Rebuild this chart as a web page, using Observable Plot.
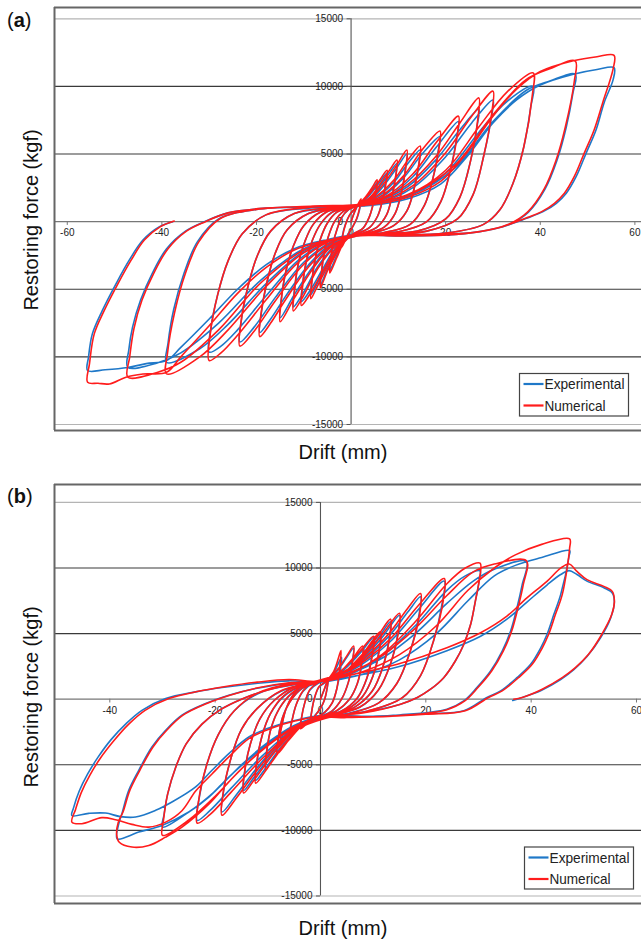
<!DOCTYPE html>
<html><head><meta charset="utf-8">
<script src="https://cdn.jsdelivr.net/npm/d3@7"></script>
<script src="https://cdn.jsdelivr.net/npm/@observablehq/plot@0.6"></script>
<style>
html,body{margin:0;padding:0;background:#fff;}
.panel{position:absolute;left:0;width:641px;}
</style></head><body>
<div id="pa" class="panel" style="top:0px"></div>
<div id="pb" class="panel" style="top:470px"></div>
<script>
const seriesNames = ["Experimental", "Numerical"];
const seriesColors = ["#1f78c8", "#ff1c1c"];
const yTicks = [15000, 10000, 5000, 0, -5000, -10000, -15000];
const xTicksA = [-60, -40, -20, 0, 20, 40, 60];
const xTicksB = [-40, -20, 0, 20, 40, 60];
const xLabel = "Drift (mm)";
const yLabel = "Restoring force (kgf)";

// (a) Experimental
const expA = [[0,0],[1,900],[2.1,1500],
[1.8,900],[1.2,200],[0.3,-400],[-0.8,-1000],[-2,-1800],
[-1.8,-1000],[-1.2,-200],[-0.3,500],[1,1000],[3,1700],[4.5,2400],[5.5,2900],
[5.2,2200],[4.6,1200],[3.8,300],[2.5,-500],[0.5,-900],[-1.5,-1500],[-3,-2500],[-4.5,-3600],
[-4.3,-2700],[-3.8,-1600],[-3,-600],[-2,300],[-0.5,900],[1.5,1200],[4,2000],[6,2900],[7.6,3600],
[7.3,2800],[6.6,1500],[5.6,400],[4,-400],[1.5,-850],[-1,-1100],[-3,-2200],[-5,-3500],[-6.5,-4700],
[-6.3,-3800],[-5.7,-2400],[-4.8,-1100],[-3.5,0],[-1.5,800],[1,1100],[4,1700],[6.5,2800],[8.3,3700],[9.7,4300],
[9.4,3300],[8.6,1800],[7.5,500],[5.5,-400],[2.5,-850],[-1,-1100],[-3.5,-2300],[-6,-3800],[-7.5,-4800],[-8.5,-5400],
[-8.3,-4400],[-7.6,-2800],[-6.5,-1300],[-5,-100],[-3,700],[0,1050],[4,1600],[7,2700],[9.5,3900],[11.8,5000],
[11.5,3900],[10.6,2100],[9.3,600],[7,-400],[3.5,-850],[0,-1000],[-3,-1800],[-6,-3500],[-8.5,-5000],[-10.5,-5900],
[-10.3,-4800],[-9.5,-3000],[-8.2,-1400],[-6.5,-200],[-4,700],[0,1050],[5,1700],[9,2900],[12,4300],[14.6,5300],
[14.3,4200],[13.3,2400],[11.8,800],[9,-300],[5,-800],[0,-1000],[-3,-1600],[-7,-3300],[-10,-5200],[-12.2,-6300],
[-12,-5100],[-11.2,-3200],[-9.8,-1500],[-8,-200],[-5,750],[0,1050],[6,1700],[11,3200],[15,5000],[18.8,6300],
[18.4,5200],[17.3,3200],[15.5,1200],[12.5,-200],[7,-800],[1,-1000],[-4,-1700],[-8,-3300],[-12,-5400],[-15,-7100],
[-14.8,-5800],[-13.8,-3700],[-12.2,-1800],[-10,-300],[-6.5,700],[0,1050],[7,1700],[13,3300],[18,5500],[22.7,7400],
[22.3,6200],[21,3800],[19,1500],[16,0],[10,-750],[2,-1000],[-4,-1600],[-9,-3200],[-14,-5600],[-17,-7200],[-19.3,-8200],
[-19,-6800],[-17.8,-4500],[-16,-2300],[-13.5,-600],[-9,600],[-3,1000],[5,1400],[12,2600],[18,4600],[23,6800],[27,8300],
[26.6,7000],[25.2,4400],[23,1800],[20,200],[14,-700],[5,-950],[-3,-1300],[-10,-3000],[-16,-5600],[-20.5,-7800],[-23.5,-8900],
[-23.2,-7300],[-21.8,-4800],[-19.8,-2500],[-17,-700],[-12,600],[-4,1000],[5,1300],[13,2500],[20,4800],[25.5,7300],[30,9000],
[29.6,7600],[28,4800],[25.8,2000],[22.5,200],[16,-700],[6,-950],[-3,-1200],[-11,-2800],[-18,-5500],[-24,-8000],[-27.5,-9200],[-30,-9650],
[-29.7,-8000],[-28.2,-5400],[-26,-2900],[-23,-900],[-18,500],[-9,1000],[2,1200],[12,1900],[20,3600],[27,6600],[33,8900],[38.5,10000],
[38,8500],[36.5,5500],[34.2,2800],[31.5,900],[28,-200],[20,-850],[8,-1000],[-2,-1100],[-10,-2200],[-18,-4600],[-26,-7600],[-32,-9400],[-39,-10400],
[-38.7,-9000],[-37.5,-6500],[-35.3,-3800],[-32.5,-1500],[-28,200],[-20,900],[-8,1100],[3,1250],[13,2000],[22,4000],[30,7400],[37,9700],[42,10400],[47.4,10890],
[46.9,9500],[45.5,7000],[43.5,4500],[41,2400],[37.5,700],[33.5,-200],[27,-750],[18,-950],[6,-1000],[-2,-1100],[-10,-2000],[-19,-4300],[-28,-7500],[-36,-9700],[-41,-10450],[-47.2,-10770],
[-47,-9500],[-46.2,-7800],[-44.5,-5800],[-42,-3800],[-39,-2000],[-35,-700],[-31,0],[-26,650],[-18,1000],[-6,1100],[4,1200],[12,1700],[19,2800],[24.5,4800],[30,7300],[35,9000],[40,10100],[47,10900],[52,11250],[55.6,11385],
[55.4,10500],[53.5,8800],[51.8,6800],[49.7,5070],[47.6,3340],[45.5,2100],[43.4,1360],[40.6,740],[37.1,250],[32.1,-370],[27.2,-740],[20.2,-990],[10,-1050],[2,-1000],[-6,-1400],[-12,-2000],[-18,-3200],[-24,-5000],[-30,-7200],[-36,-9300],[-39,-10270],[-43.3,-10500],[-47.2,-10780],[-52,-10950],[-55.7,-11010],
[-55.5,-10000],[-54.7,-8300],[-52.6,-6580],[-49.7,-4600],[-46.9,-2850],[-44,-1360],[-40.5,-370],[-37.7,0]];

// (a) Numerical
const numA = [[0,0],[1,950],[2.1,1700],
[1.8,1000],[1.2,250],[0.3,-400],[-0.8,-1050],[-2,-1900],
[-1.8,-1100],[-1.2,-250],[-0.3,500],[1,1050],[3,1800],[4.5,2550],[5.5,3100],
[5.3,2300],[4.6,1200],[3.8,300],[2.5,-500],[0.5,-900],[-1.5,-1550],[-3,-2650],[-4.5,-3800],
[-4.3,-2800],[-3.8,-1600],[-3,-600],[-2,300],[-0.5,900],[1.5,1250],[4,2100],[6,3050],[7.6,3800],
[7.4,2900],[6.6,1500],[5.6,400],[4,-400],[1.5,-850],[-1,-1150],[-3,-2300],[-5,-3650],[-6.5,-4900],
[-6.3,-3900],[-5.7,-2400],[-4.8,-1100],[-3.5,0],[-1.5,800],[1,1150],[4,1800],[6.5,2950],[8.3,3900],[9.7,4550],
[9.5,3500],[8.6,1800],[7.5,500],[5.5,-400],[2.5,-850],[-1,-1150],[-3.5,-2400],[-6,-4000],[-7.5,-5050],[-8.5,-5700],
[-8.3,-4500],[-7.6,-2800],[-6.5,-1300],[-5,-100],[-3,700],[0,1100],[4,1700],[7,2850],[9.5,4100],[11.8,5300],
[11.6,4100],[10.6,2100],[9.3,600],[7,-400],[3.5,-850],[0,-1050],[-3,-1900],[-6,-3700],[-8.5,-5250],[-10.5,-6200],
[-10.3,-4900],[-9.5,-3000],[-8.2,-1400],[-6.5,-200],[-4,700],[0,1100],[5,1800],[9,3050],[12,4550],[14.6,5600],
[14.4,4400],[13.3,2400],[11.8,800],[9,-300],[5,-800],[0,-1050],[-3,-1700],[-7,-3450],[-10,-5450],[-12.2,-6600],
[-12,-5300],[-11.2,-3200],[-9.8,-1500],[-8,-200],[-5,750],[0,1100],[6,1800],[11,3350],[15,5300],[18.8,6700],
[18.6,5500],[17.3,3200],[15.5,1200],[12.5,-200],[7,-800],[1,-1050],[-4,-1800],[-8,-3450],[-12,-5650],[-15,-7400],
[-14.8,-6000],[-13.8,-3700],[-12.2,-1800],[-10,-300],[-6.5,700],[0,1100],[7,1800],[13,3500],[18,5850],[22.7,7800],
[22.5,6500],[21,3800],[19,1500],[16,0],[10,-750],[2,-1000],[-4,-1700],[-9,-3350],[-14,-5850],[-17,-7500],[-19.3,-8500],
[-19.1,-7000],[-17.8,-4500],[-16,-2300],[-13.5,-600],[-9,600],[-3,1050],[5,1450],[12,2750],[18,4850],[23,7300],[27,9150],
[26.8,7600],[25.2,4400],[23,1800],[20,200],[14,-700],[5,-950],[-3,-1350],[-10,-3150],[-16,-5850],[-20.5,-8100],[-23.5,-9200],
[-23.3,-7500],[-21.8,-4800],[-19.8,-2500],[-17,-700],[-12,600],[-4,1050],[5,1350],[13,2650],[20,5100],[25.5,7800],[30,9650],
[29.8,8200],[28,4800],[25.8,2000],[22.5,200],[16,-700],[6,-950],[-3,-1250],[-11,-2950],[-18,-5800],[-24,-8400],[-27.5,-9700],[-30,-10270],
[-29.8,-8400],[-28.2,-5400],[-26,-2900],[-23,-900],[-18,500],[-9,1050],[2,1250],[12,2000],[20,3800],[27,7000],[33,9600],[38.5,11000],
[38.3,9300],[36.5,5500],[34.2,2800],[31.5,900],[28,-200],[20,-850],[8,-1000],[-2,-1150],[-10,-2300],[-18,-4800],[-26,-8000],[-32,-10000],[-39,-11260],
[-38.8,-9700],[-37.3,-6700],[-35,-3800],[-32.2,-1500],[-27.8,200],[-20,900],[-8,1150],[3,1300],[13,2100],[22,4200],[30,7900],[37,10500],[42,11300],[47.4,11880],
[47.2,10400],[45.3,7000],[43.3,4500],[40.8,2400],[37.3,700],[33.3,-200],[27,-750],[18,-950],[6,-1000],[-2,-1150],[-10,-2100],[-19,-4500],[-28,-8000],[-36,-10400],[-41,-11150],[-47.2,-11500],
[-46.8,-10000],[-45.9,-7900],[-44.2,-5800],[-41.7,-3800],[-38.7,-2000],[-34.8,-700],[-30.8,0],[-26,650],[-18,1000],[-6,1150],[4,1250],[12,1800],[19,3000],[24.5,5100],[30,7800],[35,9800],[40,11100],[47,11900],[52,12200],[55.6,12300],
[55.4,11300],[53.2,8800],[51.4,6800],[49.3,5070],[47.2,3340],[45.1,2100],[43,1360],[40.3,740],[36.9,250],[32,-370],[27.2,-740],[20.2,-990],[10,-1050],[2,-1000],[-6,-1450],[-12,-2100],[-18,-3400],[-24,-5300],[-30,-7700],[-36,-10000],[-39,-11140],[-44,-11260],[-47.6,-11500],[-51.1,-12000],[-53.5,-11950],[-55.7,-11880],
[-55.3,-10500],[-54.3,-8300],[-52.2,-6580],[-49.3,-4600],[-46.5,-2850],[-43.7,-1360],[-40.3,-370],[-37.4,50]];

// (b) Experimental
const expB = [[0,0],[0.8,800],[1.5,1500],
[1.3,900],[0.8,0],[0,-700],[-1,-1200],[-1.9,-1700],
[-1.7,-1000],[-1.2,0],[-0.3,900],[1,1300],[2.5,2000],[4,3200],
[3.7,2000],[3.1,800],[2.2,-300],[0.8,-1000],[-1,-1400],[-2.5,-1800],[-3.8,-2150],
[-3.6,-1400],[-3,-300],[-2,700],[-0.5,1200],[1.5,1500],[3.5,2300],[5,3200],[6.3,3900],
[6,2800],[5.3,1300],[4,0],[2.2,-900],[0,-1300],[-2,-1600],[-4,-2000],[-5.7,-2400],
[-5.4,-1600],[-4.6,-400],[-3.3,600],[-1.5,1200],[1,1400],[3.5,1900],[6,2900],[8.2,3900],
[7.9,2700],[7,1200],[5.5,0],[3,-900],[0,-1300],[-2.5,-1700],[-5,-2200],[-7.6,-2900],
[-7.3,-1900],[-6.4,-600],[-4.8,500],[-2.5,1200],[0.5,1400],[4,2100],[7.5,3500],[10.1,4700],
[9.8,3400],[8.8,1600],[7,100],[4,-900],[0.5,-1300],[-3,-1800],[-6,-3000],[-8.2,-4020],
[-8,-2900],[-7.2,-1400],[-5.8,-200],[-3.5,800],[0,1300],[4,1800],[8,3300],[11.4,5000],
[11.1,3700],[10,1800],[8,200],[5,-800],[1,-1300],[-3,-1800],[-6.5,-3200],[-9,-4500],[-10.4,-5170],
[-10.2,-3900],[-9.3,-2100],[-7.8,-700],[-5.5,400],[-2,1200],[2,1500],[6.5,2600],[10.5,4400],[13.3,5900],
[13,4500],[11.8,2400],[9.8,600],[6.5,-600],[2,-1200],[-3,-1800],[-7,-3400],[-10.5,-5300],[-12.3,-6180],
[-12.1,-4800],[-11.1,-2800],[-9.5,-1100],[-7,200],[-3,1100],[2,1500],[7,2700],[11.5,4600],[15,6400],
[14.7,5000],[13.3,2700],[11,700],[7.5,-600],[2,-1200],[-3,-1700],[-8,-3600],[-12.5,-5900],[-14.6,-6950],
[-14.4,-5500],[-13.3,-3400],[-11.5,-1500],[-8.8,-100],[-4.5,1000],[1,1500],[7,2600],[13,4800],[16.5,6600],[19,7800],
[18.6,6200],[17,3600],[14.5,1200],[11,-300],[5,-1100],[-1,-1500],[-7,-3000],[-12,-5200],[-16,-7300],[-18.7,-8600],
[-18.4,-7000],[-17,-4500],[-15,-2300],[-12,-700],[-7.5,600],[-1,1300],[6,2200],[13,4300],[18.5,6800],[23.5,9000],
[23.1,7300],[21.5,4500],[19,1800],[15.5,100],[9,-900],[1,-1400],[-5,-2300],[-11,-4300],[-17,-6800],[-21,-8500],[-23.4,-9240],
[-23.1,-7700],[-21.6,-5000],[-19.4,-2700],[-16.4,-900],[-12,400],[-5,1200],[3,1500],[11,3100],[18,5600],[24,8300],[27.5,9400],[30.3,9790],
[30.1,8980],[29.4,7460],[28.5,5690],[27.2,4170],[25.6,2910],[23.4,1640],[20.9,760],[18.4,130],[15.2,-380],[8,-1000],[0,-1300],[-5,-2000],[-10,-3300],[-15,-5000],[-20,-7000],[-25,-8600],[-30,-9750],
[-29.7,-8800],[-29,-7200],[-27.5,-5200],[-25.5,-3400],[-22.5,-1900],[-19,-800],[-15,0],[-10,700],[-5,1100],[0,1300],[6,2000],[12,3200],[18,5000],[24,7300],[29,9000],[33,9900],[39.1,10500],
[38.3,8730],[37.3,6960],[36.1,5190],[34.5,3670],[32.3,2150],[29.7,890],[27.2,-130],[24,-760],[15,-1200],[5,-1350],[0,-1400],[-6,-2370],[-12.3,-4150],[-17.4,-5930],[-21.2,-7460],[-25,-8600],[-30.1,-9620],[-34.5,-10130],[-38.6,-10640],
[-38.3,-9500],[-37.7,-8730],[-36.4,-6950],[-34.5,-5420],[-32,-3640],[-29.4,-2370],[-26.3,-1220],[-21.8,-330],[-17.4,300],[-12.3,810],[-6,1200],[0,1300],[8,1900],[15,3000],[22,5000],[28,7500],[33,9400],[37,10200],[42,10800],[47.3,11330],
[47.2,10900],[45.6,7970],[44.3,6450],[43,4930],[41.8,3900],[39.9,2660],[37.3,1640],[34.2,630],[31.6,130],[27.2,-880],[20,-1100],[10,-1300],[0,-1250],[-4.7,-1600],[-9.2,-2110],[-13.6,-2880],[-17.4,-4150],[-20.6,-5420],[-23.7,-6690],[-28.2,-7840],[-31.3,-8470],[-35.1,-8980],[-38,-8950],[-40.8,-8680],[-44,-8700],[-47.2,-8860],
[-46.9,-8300],[-45.8,-7000],[-44.2,-5700],[-42.2,-4400],[-39.8,-3100],[-37,-1900],[-33.9,-850],[-29.4,50],[-23.7,560],[-18.7,890],[-12.3,1200],[-6,1400],[0,1300],[6.3,1750],[14.6,2450],[24,3700],[30.4,4800],[35.4,6100],[39.2,7400],[43,8700],[45.6,9500],[47.2,9800],[48.7,9500],[50.6,9000],[53.8,8500],[55.4,8100],[55.8,7400],
[55.1,6200],[53.2,4700],[50.6,3250],[48.1,2250],[45.6,1500],[41.8,650],[38,100],[36.5,-100]];

// (b) Numerical
const numB = [[0,0],[0.8,850],[1.5,1600],
[1.3,950],[0.8,0],[0,-700],[-1,-1250],[-1.9,-1800],
[-1.7,-1050],[-1.2,0],[-0.3,950],[1,1350],[2.5,2100],[3.9,3700],
[3.6,2300],[3.1,800],[2.2,-300],[0.8,-1000],[-1,-1450],[-2.5,-1850],[-3.8,-2250],
[-3.6,-1450],[-3,-300],[-2,750],[-0.5,1250],[1.5,1550],[3.5,2400],[5,3300],[6.3,4050],
[6.1,2900],[5.3,1300],[4,0],[2.2,-900],[0,-1350],[-2,-1650],[-4,-2050],[-5.7,-2500],
[-5.4,-1650],[-4.6,-400],[-3.3,650],[-1.5,1250],[1,1450],[3.5,2000],[6,3050],[8,4050],
[7.8,2800],[7,1200],[5.5,0],[3,-900],[0,-1350],[-2.5,-1750],[-5,-2300],[-7.6,-3000],
[-7.3,-1950],[-6.4,-600],[-4.8,550],[-2.5,1250],[0.5,1450],[4,2200],[7.5,3650],[10.1,4800],
[9.9,3500],[8.8,1600],[7,100],[4,-900],[0.5,-1350],[-3,-1850],[-6,-3100],[-8.2,-4150],
[-8,-3000],[-7.2,-1400],[-5.8,-200],[-3.5,850],[0,1350],[4,1900],[8,3450],[11.4,5150],
[11.2,3800],[10,1800],[8,200],[5,-800],[1,-1350],[-3,-1850],[-6.5,-3300],[-9,-4650],[-10.4,-5350],
[-10.2,-4000],[-9.3,-2100],[-7.8,-700],[-5.5,450],[-2,1250],[2,1550],[6.5,2700],[10.5,4600],[13.3,6100],
[13.1,4600],[11.8,2400],[9.8,600],[6.5,-600],[2,-1250],[-3,-1850],[-7,-3500],[-10.5,-5500],[-12.3,-6400],
[-12.1,-4900],[-11.1,-2800],[-9.5,-1100],[-7,250],[-3,1150],[2,1550],[7,2800],[11.5,4800],[15,6550],
[14.8,5100],[13.3,2700],[11,700],[7.5,-600],[2,-1250],[-3,-1750],[-8,-3700],[-12.5,-6100],[-14.6,-7150],
[-14.4,-5600],[-13.3,-3400],[-11.5,-1500],[-8.8,-100],[-4.5,1050],[1,1550],[7,2700],[13,5000],[16.5,6900],[19,8050],
[18.8,6400],[17,3600],[14.5,1200],[11,-300],[5,-1150],[-1,-1550],[-7,-3100],[-12,-5400],[-16,-7550],[-18.7,-8850],
[-18.5,-7200],[-17,-4500],[-15,-2300],[-12,-700],[-7.5,650],[-1,1350],[6,2300],[13,4500],[18.5,7100],[23.5,9200],
[23.3,7500],[21.5,4500],[19,1800],[15.5,100],[9,-900],[1,-1450],[-5,-2400],[-11,-4500],[-17,-7100],[-21,-8800],[-23.4,-9450],
[-23.2,-7900],[-21.6,-5000],[-19.4,-2700],[-16.4,-900],[-12,450],[-5,1250],[3,1550],[11,3200],[18,5900],[24,8800],[27.5,10000],[30.3,10370],
[30.2,9200],[29.4,7460],[28.5,5690],[27.2,4170],[25.6,2910],[23.4,1640],[20.9,760],[18.4,130],[15.2,-380],[8,-1050],[0,-1350],[-5,-2100],[-10,-3500],[-15,-5300],[-20,-7400],[-25,-9200],[-30,-10380],
[-29.8,-9200],[-29,-7200],[-27.5,-5200],[-25.5,-3400],[-22.5,-1900],[-19,-800],[-15,0],[-10,700],[-5,1150],[0,1350],[6,2100],[12,3400],[18,5400],[24,7900],[29,9700],[33,10300],[39.1,10550],
[38.5,8730],[37.5,6960],[36.3,5190],[34.7,3670],[32.5,2150],[29.9,890],[27.4,-130],[24,-800],[15,-1250],[5,-1400],[0,-1450],[-6,-2450],[-12.3,-4300],[-17.4,-6300],[-21.2,-8000],[-26.3,-9750],[-29.4,-10510],[-32.6,-11150],[-35.8,-11270],[-38.2,-10900],[-38.7,-10300],
[-38.4,-9400],[-37.5,-8600],[-36.2,-6950],[-34.3,-5420],[-31.8,-3640],[-29.2,-2370],[-26.1,-1220],[-21.6,-330],[-17.2,300],[-12.1,850],[-6,1250],[0,1400],[8,2100],[15,3400],[22,5600],[28,8300],[33,10000],[37,11000],[42,11800],[47.3,12220],
[47.3,11500],[45.9,7970],[44.6,6450],[43.3,4930],[42.1,3900],[40.2,2660],[37.6,1640],[34.5,630],[31.9,130],[27.5,-880],[20,-1150],[10,-1350],[0,-1300],[-4.7,-1650],[-9.2,-2200],[-13.6,-3000],[-17.4,-4400],[-20.6,-5700],[-23.7,-7000],[-26.3,-8500],[-29.4,-9370],[-32.6,-9750],[-35.8,-9540],[-38.9,-9190],[-41.5,-9030],[-45.3,-9490],[-47.2,-9370],
[-46.5,-8400],[-45.4,-7100],[-43.8,-5800],[-41.8,-4500],[-39.2,-3150],[-36.4,-1900],[-33.3,-850],[-28.8,50],[-23.2,600],[-18.3,950],[-12,1300],[-6,1500],[0,1350],[6.3,1900],[14.6,2660],[24,3920],[30.4,5060],[35.4,6330],[39.2,7720],[43,8980],[45.6,9990],[47.2,10300],[48.7,9740],[50.6,9110],[53.8,8600],[55.4,8220],[55.8,7460],
[55.3,6450],[53.4,4930],[50.9,3420],[48.4,2400],[45.9,1640],[42.1,760],[38.3,130],[36.7,0]];

function panel(cfg) {
  const {el, tag, xDomain, yDomain, height, marginTop, marginBottom, xTicks, exp, num,
         tickDx, tickDy, xTickLen, yTickLen, legendBox, labelBase, driftBase, yLabelMid} = cfg;
  const plot = Plot.plot({
    width: 641, height, marginLeft: 54, marginRight: 0, marginTop, marginBottom,
    style: {background: "#fff", fontFamily: "'Liberation Sans', Arial, sans-serif", fontSize: "10px", overflow: "hidden"},
    x: {domain: xDomain, axis: null},
    y: {domain: yDomain, axis: null},
    marks: [
      Plot.ruleY([15000, -15000], {stroke: "#b4b4b4", strokeWidth: 1.2}),
      Plot.ruleY([10000, 5000, -5000, -10000], {stroke: "#3a3a3a", strokeWidth: 1.1}),
      Plot.ruleY([0], {stroke: "#777", strokeWidth: 1.2}),
      Plot.ruleX([0], {y1: -15000, y2: 15000, stroke: "#555", strokeWidth: 1.1}),
      Plot.ruleY(yTicks, {x1: -yTickLen, x2: 0, stroke: "#555"}),
      Plot.ruleX(xTicks, {y1: 0, y2: -xTickLen, stroke: "#777"}),
      Plot.text(yTicks, {x: 0, y: d => d, text: d => String(d), dx: tickDx, textAnchor: "end", fill: "#222", fontSize: 10}),
      Plot.text(xTicks, {x: d => d, y: 0, text: d => String(d), dy: tickDy, fill: "#222", fontSize: 10}),
      Plot.ruleY([yDomain[1], yDomain[0]], {stroke: "#666", strokeWidth: 2}),
      Plot.ruleX([xDomain[0]], {stroke: "#666", strokeWidth: 2}),
      Plot.line(exp, {x: d => d[0], y: d => d[1], stroke: seriesColors[0], strokeWidth: 1.6, curve: "catmull-rom"}),
      Plot.line(num, {x: d => d[0], y: d => d[1], stroke: seriesColors[1], strokeWidth: 1.6, curve: "catmull-rom"})
    ]
  });
  const svg = d3.select(plot);
  const font = "'Liberation Sans', Arial, sans-serif";
  const t = svg.append("text").attr("x", 7).attr("y", labelBase).attr("text-anchor", "start")
    .attr("font-family", font).attr("font-size", 20).attr("fill", "#111");
  t.append("tspan").text("(");
  t.append("tspan").attr("font-weight", "bold").text(tag);
  t.append("tspan").text(")");
  svg.append("text").attr("x", 343).attr("y", driftBase).attr("text-anchor", "middle")
    .attr("font-family", font).attr("font-size", 20).attr("fill", "#111").text(xLabel);
  svg.append("text").attr("transform", `translate(31,${yLabelMid}) rotate(-90)`)
    .attr("text-anchor", "middle").attr("dy", "0.36em")
    .attr("font-family", font).attr("font-size", 20).attr("fill", "#111").text(yLabel);
  const [lx, ly, lw, lh] = legendBox;
  svg.append("rect").attr("x", lx).attr("y", ly).attr("width", lw).attr("height", lh)
    .attr("fill", "#fff").attr("stroke", "#444").attr("stroke-width", 1.2);
  const widths = [80, 61];
  seriesNames.forEach((name, i) => {
    const cy = ly + 10.5 + i * 21.5;
    svg.append("line").attr("x1", lx + 4).attr("x2", lx + 24).attr("y1", cy).attr("y2", cy)
      .attr("stroke", seriesColors[i]).attr("stroke-width", 2.2);
    svg.append("text").attr("x", lx + 25).attr("y", cy).attr("dy", "0.36em").attr("text-anchor", "start")
      .attr("font-family", font).attr("font-size", 15).attr("fill", "#222")
      .attr("textLength", widths[i]).attr("lengthAdjust", "spacingAndGlyphs").text(name);
  });
  document.getElementById(el).appendChild(plot);
}

panel({el: "pa", tag: "a", xDomain: [-62.7, 61.4], yDomain: [-15444, 15836], height: 470,
  marginTop: 7, marginBottom: 40, xTicks: xTicksA, exp: expA, num: numA,
  tickDx: -8, tickDy: 11.5, xTickLen: 280, yTickLen: 0.85,
  legendBox: [519.5, 373.5, 109, 42.5], labelBase: 27, driftBase: 458.5, yLabelMid: 220});
panel({el: "pb", tag: "b", xDomain: [-50.5, 60.95], yDomain: [-15572, 16364], height: 473,
  marginTop: 14, marginBottom: 40, xTicks: xTicksB, exp: expB, num: numB,
  tickDx: -8, tickDy: 11.5, xTickLen: 290, yTickLen: 0.76,
  legendBox: [524.5, 377, 109, 42], labelBase: 33, driftBase: 465, yLabelMid: 227});
</script>
</body></html>
